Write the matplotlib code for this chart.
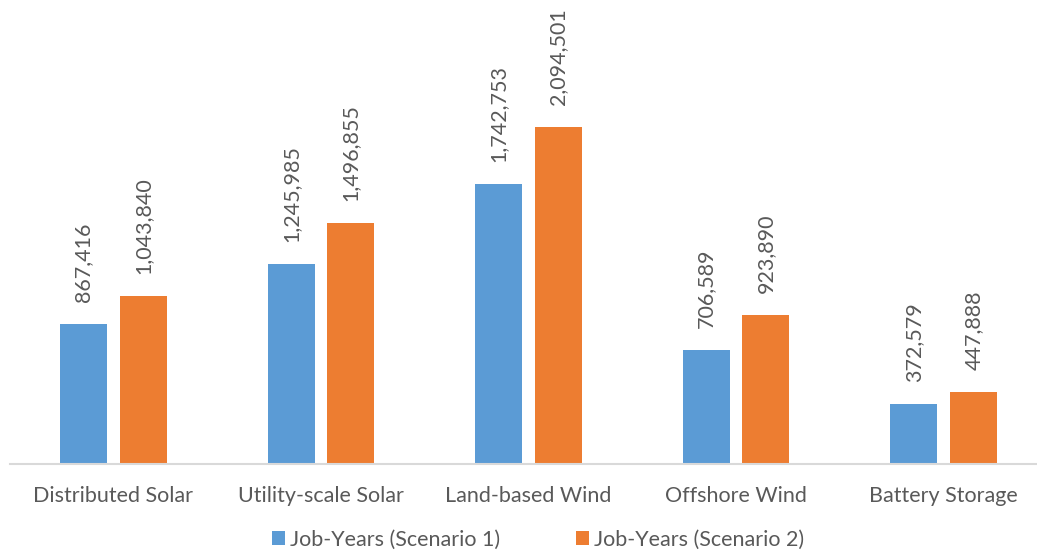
import matplotlib
matplotlib.use("Agg")
import matplotlib.pyplot as plt
import numpy as np

categories = ["Distributed Solar", "Utility-scale Solar", "Land-based Wind",
              "Offshore Wind", "Battery Storage"]
scenario1 = [867416, 1245985, 1742753, 706589, 372579]
scenario2 = [1043840, 1496855, 2094501, 923890, 447888]
series_names = ["Job-Years (Scenario 1)", "Job-Years (Scenario 2)"]

plt.rcParams["font.family"] = ["Lato", "DejaVu Sans"]
text_color = "#595959"
fs = 15.5

fig = plt.figure(figsize=(10.37, 5.52), dpi=100)
ax = fig.add_axes([9.5 / 1037, 0.1594, 1038 / 1037, 0.8406])

x = np.arange(len(categories))
w = 0.226
off = 0.1435
b1 = ax.bar(x - off, scenario1, w, color="#5B9BD5", label=series_names[0])
b2 = ax.bar(x + off, scenario2, w, color="#ED7D31", label=series_names[1])

ax.set_xlim(-0.5, len(categories) - 0.5)
ax.set_ylim(0, 2884000)

for bars, vals in ((b1, scenario1), (b2, scenario2)):
    for rect, v in zip(bars, vals):
        ax.annotate(f"{v:,}", (rect.get_x() + rect.get_width() / 2, v),
                    xytext=(0, 22), textcoords="offset pixels",
                    rotation=90, ha="center", va="bottom",
                    fontsize=fs, color=text_color)

for s in ("top", "right", "left"):
    ax.spines[s].set_visible(False)
ax.spines["bottom"].set_color("#D9D9D9")
ax.spines["bottom"].set_linewidth(1.5)
ax.set_yticks([])
ax.set_xticks(x)
ax.set_xticklabels(categories, fontsize=fs, color=text_color)
ax.tick_params(axis="x", length=0, pad=16)

fig.legend(loc="center", bbox_to_anchor=(0.519, 0.022), ncol=2,
           frameon=False, fontsize=fs, labelcolor=text_color,
           handlelength=0.6, handleheight=0.6, handletextpad=0.25,
           columnspacing=3.5)

fig.savefig("out.png", dpi=100)
